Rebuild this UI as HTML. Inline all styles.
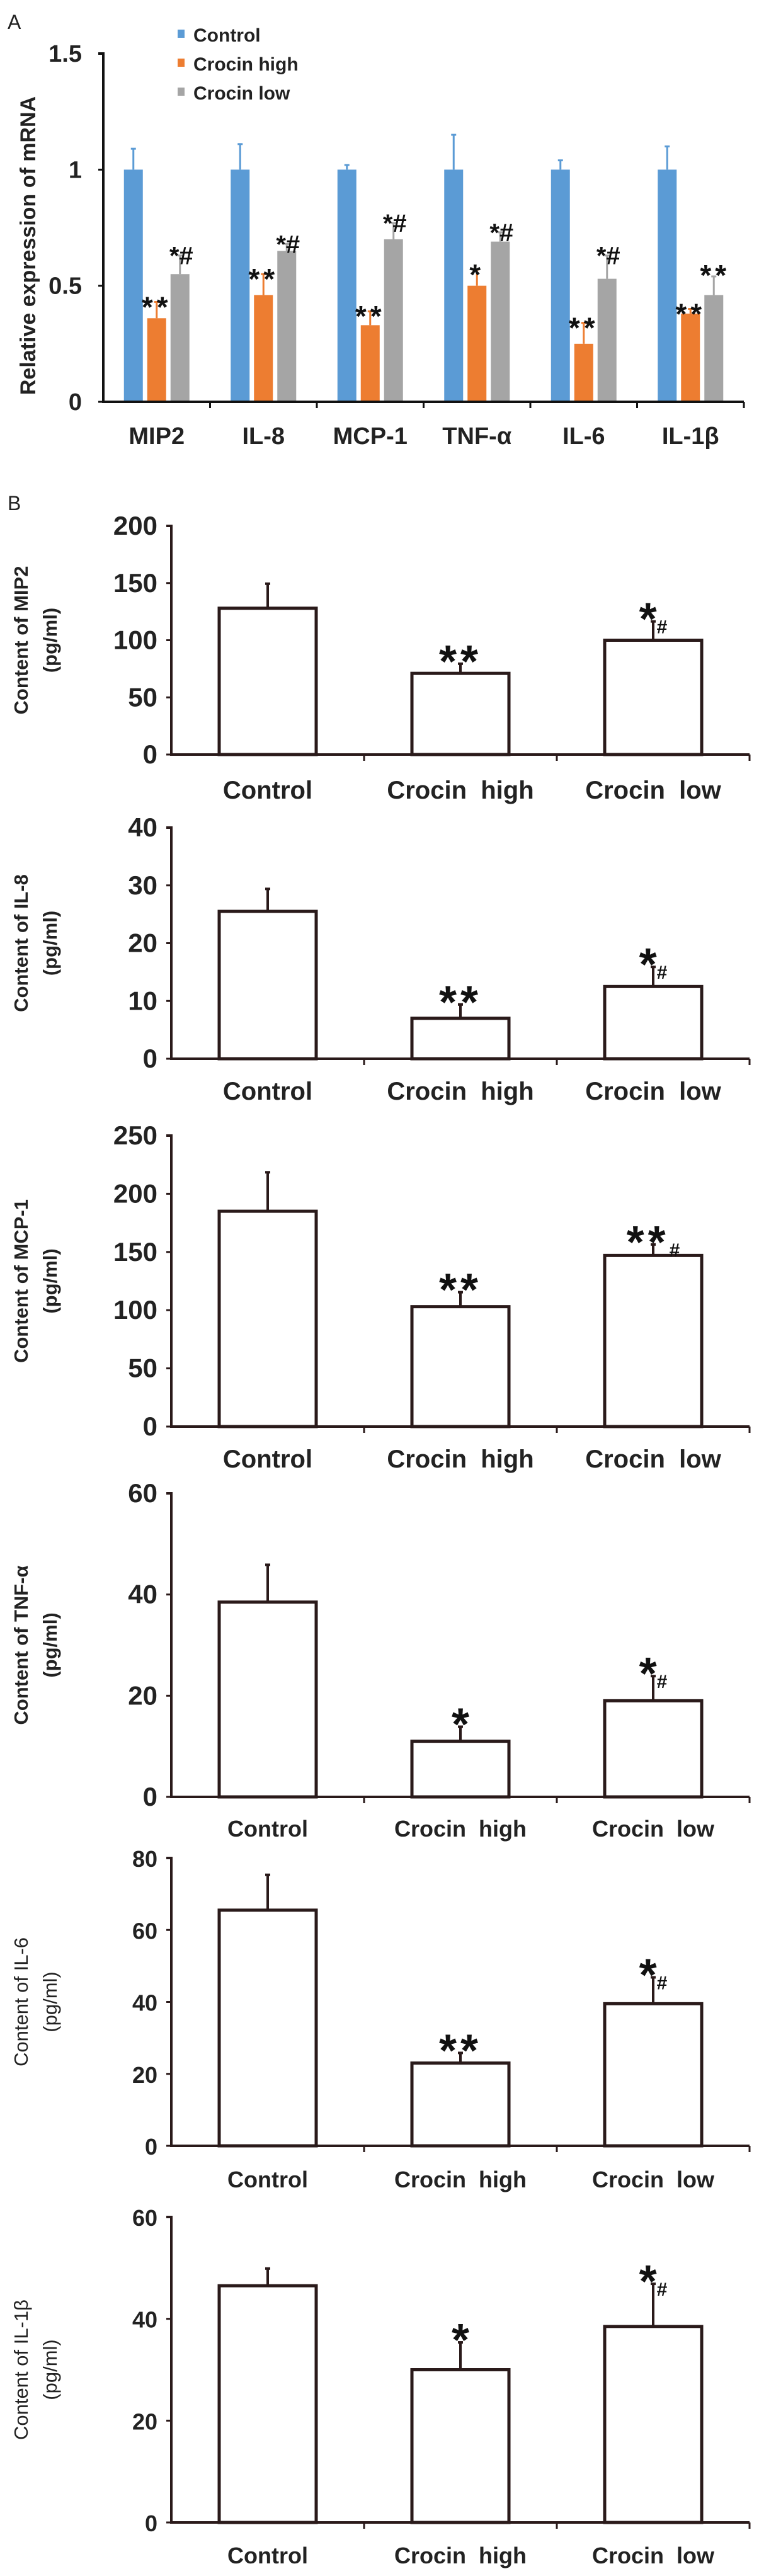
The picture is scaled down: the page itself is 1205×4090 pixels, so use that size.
<!DOCTYPE html>
<html><head><meta charset="utf-8">
<style>
html,body{margin:0;padding:0;background:#fff;}
svg{display:block;}
.n{font-family:"Liberation Sans Narrow","Liberation Sans",sans-serif;font-weight:bold;}
.r{font-family:"Liberation Sans",sans-serif;font-weight:bold;}
</style></head>
<body>
<svg id="fig" width="1205" height="4090" viewBox="0 0 1205 4090" xmlns="http://www.w3.org/2000/svg"></svg>
<script>
// ---- Panel A data ----
const aCategories = ["MIP2","IL-8","MCP-1","TNF-α","IL-6","IL-1β"];
const aSeriesNames = ["Control","Crocin high","Crocin low"];
const aControl = [1,1,1,1,1,1];
const aControlErr = [1.09,1.11,1.02,1.15,1.04,1.10];
const aHigh = [0.36,0.46,0.33,0.50,0.25,0.38];
const aHighErr = [0.43,0.55,0.39,0.57,0.34,0.40];
const aLow = [0.55,0.65,0.70,0.69,0.53,0.46];
const aLowErr = [0.63,0.68,0.77,0.73,0.63,0.54];
const aHighMarks = ["**","**","**","*","**","**"];
const aLowMarks = ["*#","*#","*#","*#","*#","**"];
const aTicks = [0,0.5,1,1.5];
const aTickLabels = ["0","0.5","1","1.5"];

// ---- Panel B data ----
const bGroups = ["Control","Crocin  high","Crocin  low"];
const bNames = ["MIP2","IL-8","MCP-1","TNF-α","IL-6","IL-1β"];
const bMIP2 = [128,71,100];   const bMIP2Err = [150,80,117];
const bIL8 = [25.5,7,12.5];   const bIL8Err = [29.5,9.5,16];
const bMCP1 = [185,103,147];  const bMCP1Err = [219,116,157];
const bTNF = [38.5,11,19];    const bTNFErr = [46,14,24];
const bIL6 = [65.5,23,39.5];  const bIL6Err = [75.5,26,47];
const bIL1 = [46.5,30,38.5];  const bIL1Err = [50,35.5,47];
const bMarksMIP2 = ["","**","*#"];
const bMarksIL8 = ["","**","*#"];
const bMarksMCP1 = ["","**","**#"];
const bMarksTNF = ["","*","*#"];
const bMarksIL6 = ["","**","*#"];
const bMarksIL1 = ["","*","*#"];
const bTicksMIP2 = [0,50,100,150,200];
const bTicksIL8 = [0,10,20,30,40];
const bTicksMCP1 = [0,50,100,150,200,250];
const bTicksTNF = [0,20,40,60];
const bTicksIL6 = [0,20,40,60,80];
const bTicksIL1 = [0,20,40,60];

const NS="http://www.w3.org/2000/svg";
const svg=document.getElementById('fig');
function mk(tag,attrs,parent){const e=document.createElementNS(NS,tag);for(const k in attrs)e.setAttribute(k,attrs[k]);(parent||svg).appendChild(e);return e;}
function txt(s,attrs,parent){const e=mk('text',attrs,parent);e.textContent=s;return e;}

// ===== Panel A =====
const A={x0:164,x1:1181,y0:638,yTop:85,max:1.5};
function ay(v){return A.y0-(v/A.max)*(A.y0-A.yTop);}
const aCatW=(A.x1-A.x0)/aCategories.length;
function ax(i){return A.x0+aCatW*(i+0.5);}
const aColors=["#5b9bd5","#ed7d31","#a5a5a5"];
const lblA=txt("A",{x:12,y:46,"font-family":"Liberation Sans, sans-serif","font-size":32,fill:"#222"});


const gA=mk('g',{});


const aVals=[aControl,aHigh,aLow], aErrs=[aControlErr,aHighErr,aLowErr];
const bw=30, gap=7;
aCategories.forEach((c,i)=>{
  for(let s=0;s<3;s++){
    const cx=ax(i)+(s-1)*(bw+gap);
    const v=aVals[s][i], e=aErrs[s][i];
    const r=mk('rect',{x:cx-bw/2,y:ay(v),width:bw,height:A.y0-ay(v),fill:aColors[s]},gA);
    
    
    const l=mk('line',{x1:cx,x2:cx,y1:ay(v),y2:ay(e),stroke:aColors[s],"stroke-width":3},gA);
    
    
    mk('line',{x1:cx-4,x2:cx+4,y1:ay(e),y2:ay(e),stroke:aColors[s],"stroke-width":3},gA);
  }
  const hx=ax(i), lx=ax(i)+bw+gap;
  const t1=txt(aHighMarks[i],{x:hx,y:ay(aHighErr[i])+24,"text-anchor":"middle","font-family":"Liberation Sans, sans-serif","font-size":46,"font-weight":"bold","letter-spacing":6,fill:"#111"},gA);
  
  
  const t2=txt(aLowMarks[i],{x:lx+2,y:ay(aLowErr[i])+14,"text-anchor":"middle","font-family":"Liberation Sans, sans-serif","font-size":aLowMarks[i]==="**"?46:40,"font-weight":"bold","letter-spacing":aLowMarks[i]==="**"?6:0,fill:"#111"},gA);
  
  
  const cl=txt(c,{x:ax(i),y:705,"text-anchor":"middle","class":"n","font-size":38,fill:"#222"},gA);
  
  
  mk('line',{x1:A.x0+aCatW*(i+1),x2:A.x0+aCatW*(i+1),y1:A.y0,y2:A.y0+10,stroke:"#111","stroke-width":3},gA);
});
const axA=mk('path',{d:`M${A.x0-8} ${A.yTop} H${A.x0} V${A.y0} H${A.x1}`,fill:"none",stroke:"#111","stroke-width":4},gA);


aTicks.forEach((t,k)=>{
  const tl=txt(aTickLabels[k],{x:130,y:ay(t)+13,"text-anchor":"end","class":"n","font-size":38,fill:"#222"},gA);
  
  
  mk('line',{x1:A.x0-8,x2:A.x0,y1:ay(t),y2:ay(t),stroke:"#111","stroke-width":3},gA);
});
const yt=txt("Relative expression of mRNA",{x:0,y:0,transform:"translate(56,390) rotate(-90)","text-anchor":"middle","font-family":"Liberation Sans, sans-serif","font-weight":"bold","font-size":34,fill:"#222"},gA);


aSeriesNames.forEach((n,s)=>{
  const g=mk('g',{},gA);
  
  
  mk('rect',{x:282,y:[47,93,139][s],width:11,height:13,fill:aColors[s]},g);
  txt(n,{x:307,y:[66,112,158][s],"class":"n","font-size":30,fill:"#222"},g);
});
const lblB=txt("B",{x:12,y:810,"font-family":"Liberation Sans, sans-serif","font-size":32,fill:"#222"});



// ===== Panel B charts =====
const panels=[
 {vals:bMIP2,errs:bMIP2Err,marks:bMarksMIP2,ticks:bTicksMIP2,name:bNames[0],yTop:835,y0:1198,lab:1268,narrow:true,bold:true},
 {vals:bIL8,errs:bIL8Err,marks:bMarksIL8,ticks:bTicksIL8,name:bNames[1],yTop:1314,y0:1681,lab:1746,narrow:true,bold:true},
 {vals:bMCP1,errs:bMCP1Err,marks:bMarksMCP1,ticks:bTicksMCP1,name:bNames[2],yTop:1803,y0:2265,lab:2330,narrow:true,bold:true},
 {vals:bTNF,errs:bTNFErr,marks:bMarksTNF,ticks:bTicksTNF,name:bNames[3],yTop:2371,y0:2853,lab:2916,narrow:false,bold:true,tickNarrow:true},
 {vals:bIL6,errs:bIL6Err,marks:bMarksIL6,ticks:bTicksIL6,name:bNames[4],yTop:2950,y0:3407,lab:3473,narrow:false,bold:false},
 {vals:bIL1,errs:bIL1Err,marks:bMarksIL1,ticks:bTicksIL1,name:bNames[5],yTop:3520,y0:4005,lab:4070,narrow:false,bold:false}
];
const BX0=272, BX1=1190, bCat=(BX1-BX0)/3, BW=154;
panels.forEach((p,pi)=>{
  const g=mk('g',{});
  
  
  const max=p.ticks[p.ticks.length-1];
  const y=v=>p.y0-(v/max)*(p.y0-p.yTop);
  const x=i=>BX0+bCat*(i+0.5);
  p.vals.forEach((v,i)=>{
    const cx=x(i);
    const r=mk('rect',{x:cx-BW/2,y:y(v),width:BW,height:p.y0-y(v),fill:"#fff",stroke:"#2a1a1a","stroke-width":5},g);
    
    
    const l=mk('line',{x1:cx,x2:cx,y1:y(v),y2:y(p.errs[i]),stroke:"#2a1a1a","stroke-width":4},g);
    
    
    mk('line',{x1:cx-4,x2:cx+4,y1:y(p.errs[i])+1,y2:y(p.errs[i])+1,stroke:"#2a1a1a","stroke-width":4},g);
    const m=p.marks[i];
    if(m){
      const t=mk('text',{x:cx,y:y(p.errs[i])+22,"text-anchor":"middle","font-family":"Liberation Sans, sans-serif","font-weight":"bold",fill:"#111"},g);
      
      
      const stars=m.replace('#','');
      const s1=document.createElementNS(NS,'tspan');s1.setAttribute('font-size',72);s1.setAttribute('letter-spacing',stars.length>1?6:0);s1.textContent=stars;t.appendChild(s1);
      if(m.includes('#')){const s2=document.createElementNS(NS,'tspan');s2.setAttribute('font-size',30);s2.setAttribute('dy',-2);s2.textContent='#';t.appendChild(s2);}
    }
    const cl=txt(bGroups[i],{x:cx,y:p.lab,"text-anchor":"middle","class":p.narrow?"n":"r","font-size":p.narrow?40:36,fill:"#222"},g);
    cl.setAttribute('style','white-space:pre');
    
    
    mk('line',{x1:BX0+bCat*(i+1),x2:BX0+bCat*(i+1),y1:p.y0,y2:p.y0+10,stroke:"#2a1a1a","stroke-width":3},g);
  });
  const ax=mk('path',{d:`M${BX0-8} ${p.yTop} H${BX0} V${p.y0} H${BX1}`,fill:"none",stroke:"#2a1a1a","stroke-width":4},g);
  
  
  p.ticks.forEach(t=>{
    mk('line',{x1:BX0-8,x2:BX0,y1:y(t),y2:y(t),stroke:"#2a1a1a","stroke-width":3},g);
    const tl=txt(String(t),{x:BX0-22,y:y(t)+14,"text-anchor":"end","class":(p.narrow||p.tickNarrow)?"n":"r","font-size":(p.narrow||p.tickNarrow)?42:36,fill:"#222"},g);
    
    
  });
  const cy=(p.yTop+p.y0)/2;
  const t1=txt("Content of "+p.name,{x:0,y:0,transform:`translate(44,${cy}) rotate(-90)`,"text-anchor":"middle","font-family":"Liberation Sans, sans-serif","font-weight":p.bold?"bold":"normal","font-size":31,fill:"#222"},g);
  
  
  const t2=txt("(pg/ml)",{x:0,y:0,transform:`translate(90,${cy}) rotate(-90)`,"text-anchor":"middle","font-family":"Liberation Sans, sans-serif","font-weight":p.bold?"bold":"normal","font-size":31,fill:"#222"},g);
  
  
});
</script>
</body></html>
